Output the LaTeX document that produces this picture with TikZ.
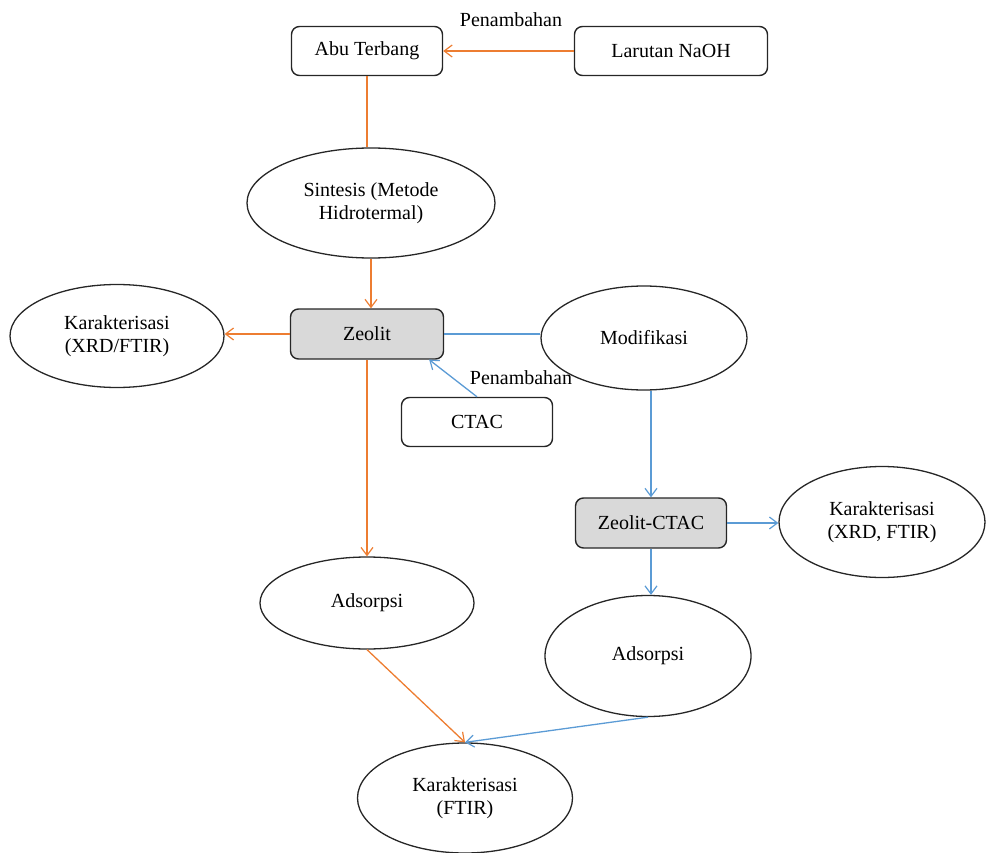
\documentclass[tikz,border=0pt]{standalone}
\usepackage{fontspec}
\setmainfont{Liberation Serif}
\usetikzlibrary{arrows.meta,shapes.geometric}
\definecolor{orng}{RGB}{237,125,49}
\definecolor{blu}{RGB}{91,155,213}
\definecolor{gry}{RGB}{217,217,217}
\tikzset{
  rbox/.style={draw=black!85,line width=1.4pt,rounded corners=8pt,minimum width=151pt,minimum height=49pt,inner sep=0pt,font=\fontsize{20}{23}\selectfont},
  gbox/.style={rbox,fill=gry},
  ell/.style={draw=black!85,line width=1.3pt,ellipse,inner sep=0pt,align=center,font=\fontsize{20}{23}\selectfont},
  lbl/.style={font=\fontsize{20}{23}\selectfont,inner sep=0pt},
  tip/.style={-{Straight Barb[length=8pt,width=12pt,line width=1.2pt]}},
  oline/.style={draw=orng,line width=1.3pt},
  bline/.style={draw=blu,line width=1.3pt}
}
\begin{document}
\begin{tikzpicture}[x=1pt,y=-1pt]
\useasboundingbox (0,0) rectangle (987,853);
\node[rbox] (abu) at (367,51) {Abu Terbang};
\node[rbox,minimum width=193pt] (naoh) at (671,51) {Larutan NaOH};
\node[lbl] (pen1) at (511,20) {Penambahan};
\node[ell,minimum width=248pt,minimum height=110pt] (sin) at (371,203) {Sintesis (Metode\\Hidrotermal)};
\node[gbox,minimum width=153pt,minimum height=50pt] (zeo) at (367,334) {Zeolit};
\node[ell,minimum width=214pt,minimum height=103pt] (kar1) at (117,336) {Karakterisasi\\(XRD/FTIR)};
\node[ell,minimum width=206pt,minimum height=104pt] (mod) at (644,338) {Modifikasi};
\node[rbox] (ctac) at (477,422) {CTAC};
\node[lbl] (pen2) at (521,378) {Penambahan};
\node[gbox,minimum width=151pt,minimum height=50pt] (zc) at (651,523) {Zeolit-CTAC};
\node[ell,minimum width=206pt,minimum height=111pt] (kar2) at (882,522) {Karakterisasi\\(XRD, FTIR)};
\node[ell,minimum width=214pt,minimum height=92pt] (ads1) at (367,603) {Adsorpsi};
\node[ell,minimum width=206pt,minimum height=121pt] (ads2) at (648,656) {Adsorpsi};
\node[ell,minimum width=215pt,minimum height=110pt] (kar3) at (465,798) {Karakterisasi\\(FTIR)};
\coordinate (zin) at ([xshift=-15pt]zeo.south east);
% orange connectors
\draw[oline,tip] (naoh.west) -- (abu.east);
\draw[oline] (abu.south) -- (sin.north -| abu.south);
\draw[oline,tip] (sin.south) -- (zeo.north -| sin.south);
\draw[oline,tip] (zeo.west) -- (kar1.east |- zeo.west);
\draw[oline,tip] (zeo.south) -- (ads1.north);
\draw[oline,tip] (ads1.south) -- (kar3.north);
% blue connectors
\draw[bline] (zeo.east) -- (zeo.east -| mod.west);
\draw[bline,tip] (ctac.north) -- (zin);
\draw[bline,tip] (mod.south -| zc.north) -- (zc.north);
\draw[bline,tip] (zc.east) -- (kar2.west |- zc.east);
\draw[bline,tip] (zc.south) -- (ads2.north -| zc.south);
\draw[bline,tip] (ads2.south) -- (kar3.north);
\end{tikzpicture}
\end{document}
